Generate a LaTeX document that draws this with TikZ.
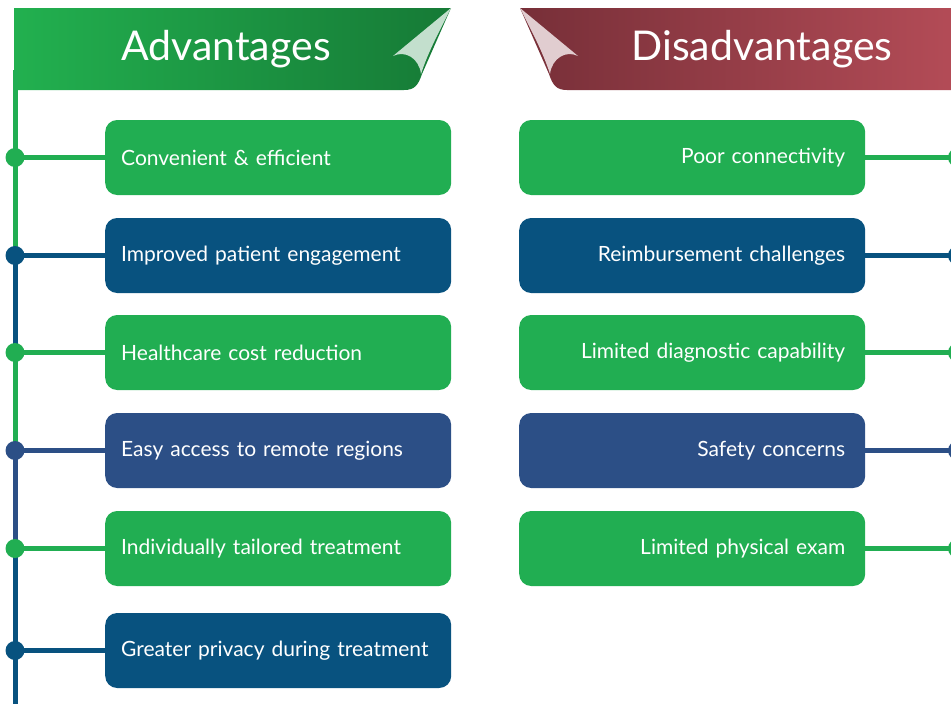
\documentclass[tikz,border=0pt]{standalone}
\usepackage{fontspec}
\setmainfont{Lato}
\definecolor{cgreen}{HTML}{21AE52}
\definecolor{cblue}{HTML}{08527F}
\definecolor{cblueb}{HTML}{2C4F86}
\definecolor{bgL}{HTML}{22B04F}
\definecolor{bgR}{HTML}{167A36}
\definecolor{foldG}{HTML}{C3DFCD}
\definecolor{brL}{HTML}{772F38}
\definecolor{brR}{HTML}{B44C57}
\definecolor{foldR}{HTML}{E1CDD0}
\newcommand{\upb}[1]{\raisebox{3pt}{#1}}
\begin{document}
\begin{tikzpicture}[x=1pt,y=-1pt,
  lbox/.style={rounded corners=12pt, minimum height=75pt, inner xsep=16pt, inner ysep=0pt,
     text width=314pt, align=left, text=white, font=\fontsize{21}{24}\selectfont, anchor=west},
  rbox/.style={rounded corners=12pt, minimum height=75pt, inner xsep=20pt, inner ysep=0pt,
     text width=306pt, align=right, text=white, font=\fontsize{21}{24}\selectfont, anchor=west},
  dot/.style={circle, inner sep=0pt, minimum size=19pt},
  conn/.style={line width=5pt},
  titletext/.style={text=white, font=\fontsize{41}{46}\selectfont, anchor=base, inner sep=0pt}
]
\useasboundingbox (0,0) rectangle (951,704);
\clip (0,0) rectangle (951,704);

% left vertical line coordinates
\coordinate (ltop) at (15,70);
\coordinate (lbot) at (15,706);

% banners
\shade[left color=bgL, right color=bgR] (14,8) -- (451,8) -- (422,74) .. controls (418,86) and (414,90) .. (404,90) -- (14,90) -- cycle;
\fill[foldG] (451,8) .. controls (440,30) and (428,52) .. (421,74) .. controls (419,58) and (405,50) .. (393,56) -- cycle;
\node[titletext] (tadv) at (226,60) {Advantages};

\shade[left color=brL, right color=brR] (520,8) -- (960,8) -- (960,90) -- (567,90) .. controls (557,90) and (553,86) .. (549,74) -- cycle;
\fill[foldR] (520,8) .. controls (531,30) and (543,52) .. (550,74) .. controls (552,58) and (566,50) .. (578,56) -- cycle;
\node[titletext] (tdis) at (762,60) {Disadvantages};

% left boxes
\node[lbox, fill=cgreen] (a1) at (105,157.5) {Convenient \& efficient};
\node[lbox, fill=cblue]  (a2) at (105,255.5) {Improved patient engagement};
\node[lbox, fill=cgreen] (a3) at (105,352.5) {Healthcare cost reduction};
\node[lbox, fill=cblueb] (a4) at (105,450.5) {Easy access to remote regions};
\node[lbox, fill=cgreen] (a5) at (105,548.5) {Individually tailored treatment};
\node[lbox, fill=cblue]  (a6) at (105,650.5) {Greater privacy during treatment};

% left dots
\node[dot] (d1) at (15,157.5) {};
\node[dot] (d2) at (15,255.5) {};
\node[dot] (d3) at (15,352.5) {};
\node[dot] (d4) at (15,450.5) {};
\node[dot] (d5) at (15,548.5) {};
\node[dot] (d6) at (15,650.5) {};

\draw[conn, cgreen] (ltop) -- (d1.center);
\draw[conn, cgreen] (d1.center) -- (d2.center);
\draw[conn, cblue] (d2.center) -- (d3.center);
\draw[conn, cgreen] (d3.center) -- (d4.center);
\draw[conn, cblueb] (d4.center) -- (d5.center);
\draw[conn, cblue] (d5.center) -- (d6.center);
\draw[conn, cblue] (d6.center) -- (lbot);

\draw[conn, cgreen] (d1.center) -- (a1.west);
\draw[conn, cblue]  (d2.center) -- (a2.west);
\draw[conn, cgreen] (d3.center) -- (a3.west);
\draw[conn, cblueb] (d4.center) -- (a4.west);
\draw[conn, cgreen] (d5.center) -- (a5.west);
\draw[conn, cblue]  (d6.center) -- (a6.west);

\fill[cgreen] (d1) circle (9.5);
\fill[cblue]  (d2) circle (9.5);
\fill[cgreen] (d3) circle (9.5);
\fill[cblueb] (d4) circle (9.5);
\fill[cgreen] (d5) circle (9.5);
\fill[cblue]  (d6) circle (9.5);

% right boxes
\node[rbox, fill=cgreen] (b1) at (519,157.5) {\upb{Poor connectivity}};
\node[rbox, fill=cblue]  (b2) at (519,255.5) {\upb{Reimbursement challenges}};
\node[rbox, fill=cgreen] (b3) at (519,352.5) {\upb{Limited diagnostic capability}};
\node[rbox, fill=cblueb] (b4) at (519,450.5) {\upb{Safety concerns}};
\node[rbox, fill=cgreen] (b5) at (519,548.5) {\upb{Limited physical exam}};

\node[dot] (e1) at (957.5,157.5) {};
\node[dot] (e2) at (957.5,255.5) {};
\node[dot] (e3) at (957.5,352.5) {};
\node[dot] (e4) at (957.5,450.5) {};
\node[dot] (e5) at (957.5,548.5) {};

\draw[conn, cgreen] (b1.east) -- (e1.center);
\draw[conn, cblue]  (b2.east) -- (e2.center);
\draw[conn, cgreen] (b3.east) -- (e3.center);
\draw[conn, cblueb] (b4.east) -- (e4.center);
\draw[conn, cgreen] (b5.east) -- (e5.center);
\fill[cgreen] (e1) circle (9.5);
\fill[cblue]  (e2) circle (9.5);
\fill[cgreen] (e3) circle (9.5);
\fill[cblueb] (e4) circle (9.5);
\fill[cgreen] (e5) circle (9.5);
\end{tikzpicture}
\end{document}
